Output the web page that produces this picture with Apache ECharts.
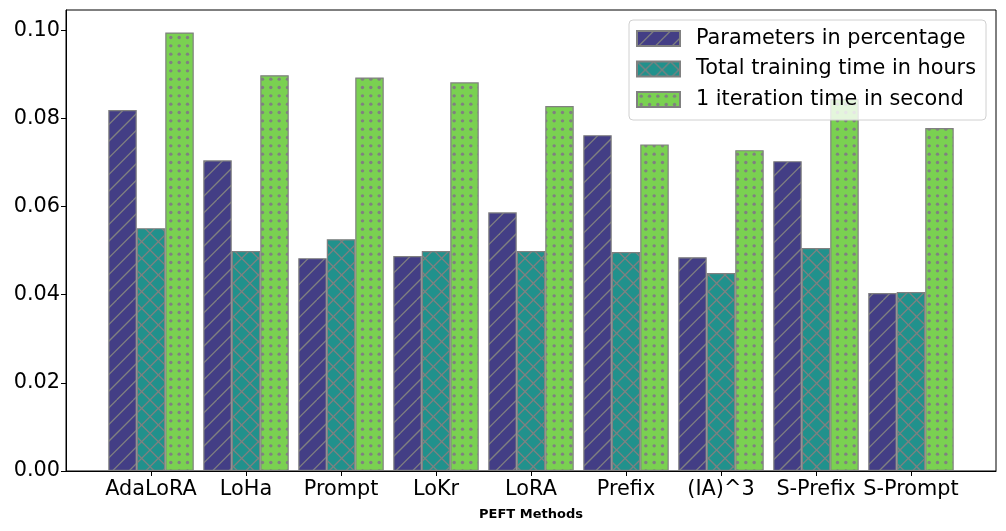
<!DOCTYPE html>
<html>
<head>
<meta charset="utf-8">
<script src="https://cdn.jsdelivr.net/npm/echarts@6/dist/echarts.min.js"></script>
<style>html,body{margin:0;padding:0;background:#fff}#c{width:1006px;height:531px}</style>
</head>
<body>
<div id="c"></div>
<script>
const categories = ['AdaLoRA', 'LoHa', 'Prompt', 'LoKr', 'LoRA', 'Prefix', '(IA)^3', 'S-Prefix', 'S-Prompt'];
const seriesNames = ['Parameters in percentage', 'Total training time in hours', '1 iteration time in second'];
const paramsPct = [0.0819, 0.0705, 0.0483, 0.0488, 0.0587, 0.0762, 0.0485, 0.0703, 0.0404];
const trainHours = [0.0551, 0.0499, 0.0526, 0.0499, 0.0499, 0.0497, 0.0449, 0.0506, 0.0406];
const iterSeconds = [0.0995, 0.0898, 0.0893, 0.0882, 0.0828, 0.0741, 0.0728, 0.0844, 0.0778];
const yTicks = [0, 0.02, 0.04, 0.06, 0.08, 0.10];

const HATCH = '#808080';
function makeTile(bg, kind) {
  const s = 100;
  const cv = document.createElement('canvas');
  cv.width = s; cv.height = s;
  const g = cv.getContext('2d');
  g.fillStyle = bg; g.fillRect(0, 0, s, s);
  g.strokeStyle = HATCH; g.fillStyle = HATCH; g.lineWidth = 1.3;
  const step = s / 6;
  if (kind === '/' || kind === 'x') {
    for (let k = -7; k <= 7; k++) {
      g.beginPath(); g.moveTo(k * step, s); g.lineTo(k * step + s, 0); g.stroke();
    }
  }
  if (kind === 'x') {
    for (let k = -7; k <= 7; k++) {
      g.beginPath(); g.moveTo(k * step, 0); g.lineTo(k * step + s, s); g.stroke();
    }
  }
  if (kind === '.') {
    const d = s / 12;
    for (let i = 0; i < 12; i++) for (let j = 0; j < 12; j++) {
      g.beginPath(); g.arc(i * d + d / 2, j * d + d / 2, 1.7, 0, Math.PI * 2); g.fill();
    }
  }
  return cv;
}
const fills = [
  { image: makeTile('#433e85', '/'), repeat: 'repeat' },
  { image: makeTile('#21918c', 'x'), repeat: 'repeat' },
  { image: makeTile('#7ad151', '.'), repeat: 'repeat' }
];
const dataSets = [paramsPct, trainHours, iterSeconds];

const chart = echarts.init(document.getElementById('c'), null, { renderer: 'canvas' });
const font = 'DejaVu Sans';
const FS = 20.8;
chart.setOption({
  animation: false,
  textStyle: { fontFamily: font },
  grid: { left: 66, right: 10, top: 10, bottom: 60, show: true, borderColor: '#000', borderWidth: 1, backgroundColor: 'transparent', containLabel: false },
  legend: {
    orient: 'vertical', right: 20, top: 20,
    itemWidth: 43, itemHeight: 15, itemGap: 9.5,
    padding: [8, 10, 10, 7],
    backgroundColor: 'rgba(255,255,255,0.8)',
    borderColor: '#d0d0d0', borderWidth: 1, borderRadius: 4,
    textStyle: { fontSize: FS, color: '#000', fontFamily: font, padding: [0, 0, 0, 11] },
    data: seriesNames.map(n => ({ name: n, icon: 'rect' }))
  },
  xAxis: {
    type: 'value', min: -0.895, max: 8.895,
    name: 'PEFT Methods', nameLocation: 'middle', nameGap: 37,
    nameTextStyle: { fontSize: 13, fontWeight: 'bold', color: '#000', fontFamily: font },
    splitLine: { show: false },
    axisLine: { show: true, onZero: false, lineStyle: { color: '#000', width: 1 } },
    axisTick: { show: true, customValues: categories.map((c, i) => i), length: 5, lineStyle: { color: '#000' } },
    axisLabel: { customValues: categories.map((c, i) => i), formatter: v => categories[Math.round(v)], fontSize: FS, color: '#000', margin: 8, fontFamily: font }
  },
  yAxis: {
    type: 'value', min: 0, max: 0.1046,
    splitLine: { show: false },
    axisLine: { show: true, onZero: false, lineStyle: { color: '#000', width: 1 } },
    axisTick: { show: true, customValues: yTicks, length: 5, lineStyle: { color: '#000' } },
    axisLabel: { customValues: yTicks, formatter: v => v.toFixed(2), fontSize: FS, color: '#000', margin: 6, fontFamily: font }
  },
  series: seriesNames.map((n, si) => ({
    name: n, type: 'bar', barWidth: 28.5, barGap: '0%',
    itemStyle: { color: fills[si], borderColor: '#808080', borderWidth: 1.2 },
    data: dataSets[si].map((v, i) => [i, v])
  }))
});
</script>
</body>
</html>
